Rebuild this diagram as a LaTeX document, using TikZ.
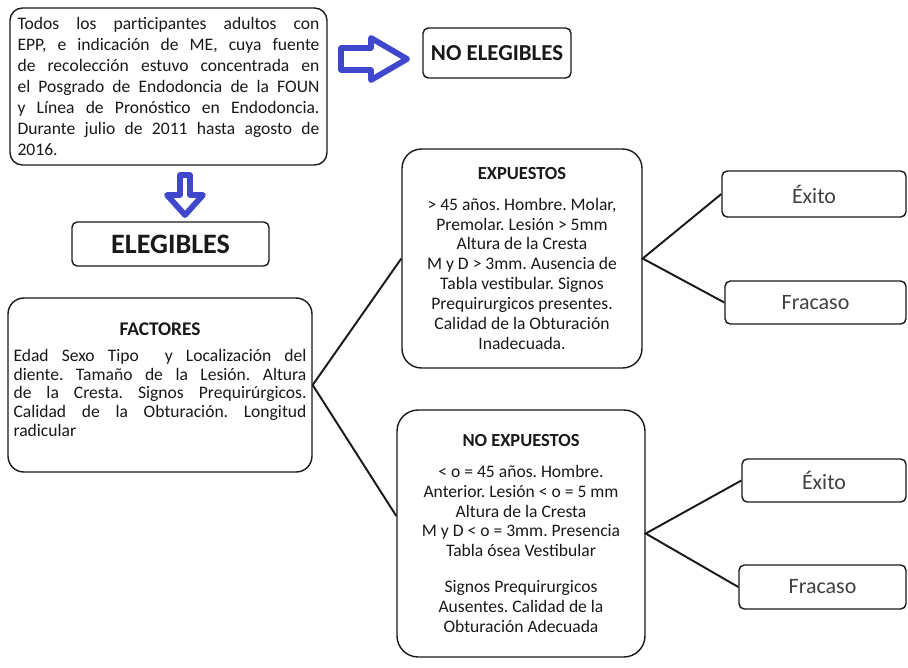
\documentclass[tikz,border=0pt]{standalone}
\usepackage{fontspec}
\setmainfont{Carlito}
\frenchspacing
\usetikzlibrary{positioning}
\definecolor{ElgInk}{RGB}{25,25,25}
\definecolor{ElgGray}{RGB}{64,64,64}
\definecolor{ElgBlue}{RGB}{63,72,204}
\tikzset{
  elg/textbox/.style={
    draw=ElgInk,
    line width=0.8pt,
    rounded corners=7pt,
    fill=white,
    text=ElgInk,
    inner xsep=0pt,
    inner ysep=0pt,
    align=justify
  },
  elg/groupbox/.style={
    draw=ElgInk,
    line width=0.8pt,
    rounded corners=11pt,
    fill=white,
    text=ElgInk,
    inner sep=0pt,
    align=center,
    font=\fontsize{10}{11.3}\selectfont
  },
  elg/label/.style={
    draw=ElgInk,
    line width=0.8pt,
    rounded corners=3pt,
    fill=white,
    text=ElgInk,
    inner sep=0pt,
    font=\bfseries
  },
  elg/outcome/.style={
    draw=ElgInk,
    line width=0.8pt,
    rounded corners=3pt,
    fill=white,
    text=ElgGray,
    inner sep=0pt,
    font=\fontsize{12.5}{14}\selectfont
  },
  elg/link/.style={draw=ElgInk, line width=1.1pt},
  elg/blockarrow/.style={draw=ElgBlue, line width=3.3pt, line join=round, fill=white}
}

\begin{document}
\begin{tikzpicture}[x=0.02cm,y=-0.02cm]
  \path[use as bounding box, fill=white] (0,0) rectangle (908,667);

  \node[elg/textbox, minimum width=6.34cm, minimum height=3.14cm, text width=6.04cm,
        font=\fontsize{10}{11.9}\selectfont] (poblacion) at (168.5,86.5)
    {Todos los participantes adultos con\linebreak
     EPP, e indicación de ME, cuya fuente\linebreak
     de recolección estuvo concentrada en\linebreak
     el Posgrado de Endodoncia de la FOUN\linebreak
     y Línea de Pronóstico en Endodoncia.\linebreak
     Durante julio de  2011 hasta agosto de\linebreak
     2016.};
  \node[elg/label, minimum width=2.96cm, minimum height=1.0cm,
        font=\bfseries\fontsize{13}{15}\selectfont] (noelegibles) at (497,53) {NO ELEGIBLES};
  \node[elg/label, minimum width=3.94cm, minimum height=0.88cm,
        font=\bfseries\fontsize{16}{18}\selectfont] (elegibles) at (170.5,244) {ELEGIBLES};

  \draw[elg/blockarrow] (341,48) -- (371,48) -- (371,38) -- (407,59) -- (371,80)
    -- (371,70) -- (341,70) -- cycle;
  \draw[elg/blockarrow] (180,175) -- (190,175) -- (190,195) -- (203,195) -- (185,215)
    -- (167,195) -- (180,195) -- cycle;

  \node[elg/textbox, rounded corners=9pt, minimum width=6.08cm, minimum height=3.48cm,
        text width=5.86cm, font=\fontsize{10}{10.6}\selectfont] (factores) at (160,385)
    {{\centering\bfseries\fontsize{11}{12}\selectfont FACTORES\par}\vspace{4pt}
     Edad Sexo Tipo \ y Localización del\linebreak
     diente. Tamaño de la Lesión. Altura\linebreak
     de la Cresta. Signos Prequirúrgicos.\linebreak
     Calidad de la Obturación. Longitud\linebreak
     radicular\par\vspace{6pt}};

  \node[elg/groupbox, minimum width=4.8cm, minimum height=4.38cm] (expuestos) at (522,258.5)
    {{\bfseries\fontsize{10.5}{12}\selectfont EXPUESTOS}\\[6pt]
     > 45 años. Hombre. Molar,\\
     Premolar. Lesión > 5mm\\
     Altura de la Cresta\\
     M y D > 3mm. Ausencia de\\
     Tabla vestibular. Signos\\
     Prequirurgicos presentes.\\
     Calidad de la Obturación\\
     Inadecuada.};
  \node[elg/groupbox, rounded corners=12pt, minimum width=4.96cm, minimum height=4.94cm]
    (noexpuestos) at (521,533.5)
    {{\bfseries\fontsize{10.5}{12}\selectfont NO EXPUESTOS}\\[6pt]
     < o = 45 años. Hombre.\\
     Anterior. Lesión < o = 5 mm\\
     Altura de la Cresta\\
     M y D < o = 3mm. Presencia\\
     Tabla ósea Vestibular\\[9pt]
     Signos Prequirurgicos\\
     Ausentes. Calidad de la\\
     Obturación Adecuada};

  \node[elg/outcome, minimum width=3.68cm, minimum height=0.92cm] (exito1) at (814,194) {Éxito};
  \node[elg/outcome, minimum width=3.62cm, minimum height=0.86cm] (fracaso1) at (815.5,302.5) {Fracaso};
  \node[elg/outcome, minimum width=3.28cm, minimum height=0.86cm] (exito2) at (824,480.5) {Éxito};
  \node[elg/outcome, minimum width=3.34cm, minimum height=0.88cm] (fracaso2) at (822.5,587) {Fracaso};

  \draw[elg/link] (expuestos.west) -- (factores.east) -- ([yshift=0.35cm]noexpuestos.west);
  \draw[elg/link] (exito1.west) -- (expuestos.east) -- (fracaso1.west);
  \draw[elg/link] (exito2.west) -- (noexpuestos.east) -- (fracaso2.west);
\end{tikzpicture}
\end{document}
